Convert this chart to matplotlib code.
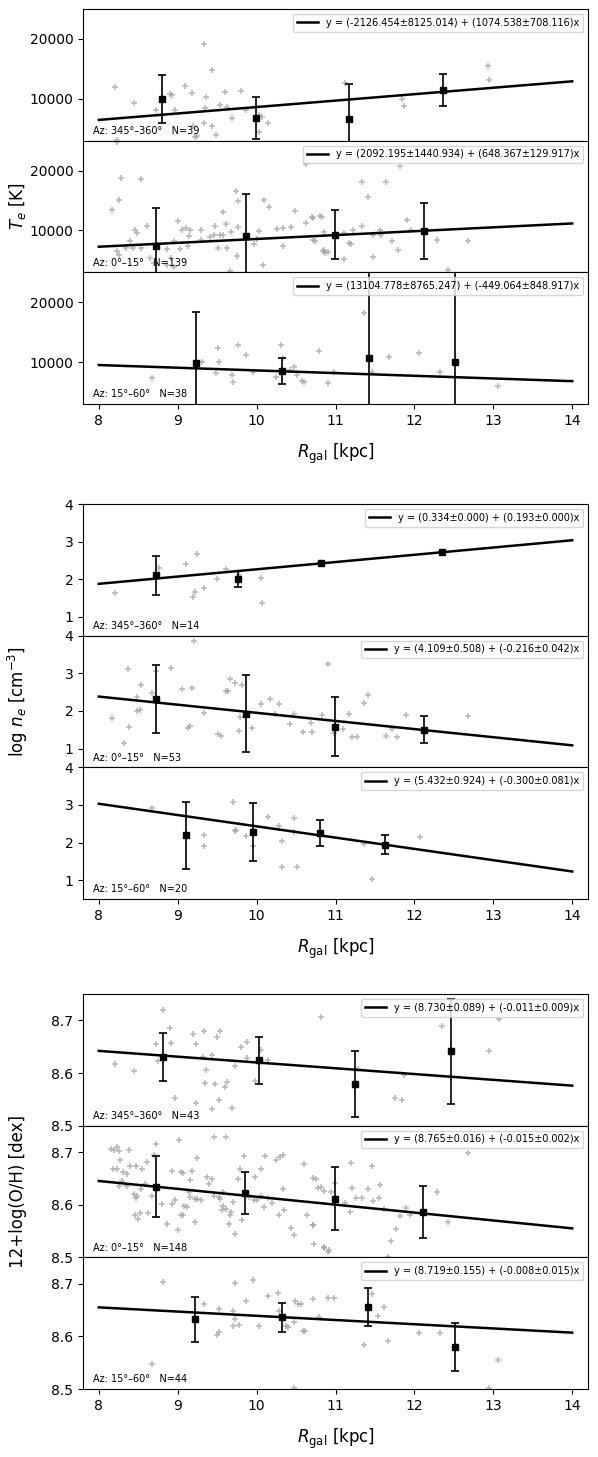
"""Radial gradients of Te, ne and O/H in three azimuth slices."""
import numpy as np
import matplotlib
matplotlib.use('Agg')
import matplotlib.pyplot as plt

W_PX, H_PX, DPI = 598, 1457, 100

az_labels = ['Az: 345°–360°', 'Az: 0°–15°', 'Az: 15°–60°']

# ---------------- Te ----------------
te_n = [39, 139, 38]
te_a = [-2126.454, 2092.195, 13104.778]
te_da = [8125.014, 1440.934, 8765.247]
te_b = [1074.538, 648.367, -449.064]
te_db = [708.116, 129.917, 848.917]

te_x1 = [8.20, 8.45, 8.72, 8.90, 8.93, 8.96, 9.09, 9.18, 9.33, 9.44, 9.36, 9.35, 9.33, 9.44, 9.48,
         9.53, 9.60, 9.62, 9.69, 9.80, 9.87, 10.03, 10.07, 10.03, 10.15, 11.12, 11.84, 11.87, 12.93,
         12.95, 9.22, 8.23, 9.20, 9.24]
te_y1 = [11890, 9330, 8110, 10720, 10600, 8170, 12060, 10890, 19220, 14890, 10280, 8390, 5890, 5440,
         3940, 8940, 11060, 8670, 6780, 11280, 8110, 7280, 7000, 4500, 5890, 12560, 9890, 8780, 15500,
         13170, 3670, 3100, 5520, 3830]
te_x2 = [8.23, 8.28, 8.53, 8.26, 8.17, 9.74, 9.76, 10.10, 10.16, 10.49, 9.57, 8.61, 8.46, 8.49, 9.00,
         9.06, 9.16, 9.11, 9.14, 9.29, 9.47, 9.61, 9.67, 9.76, 9.46, 9.53, 9.58, 9.41, 10.03, 10.26,
         10.33, 10.44, 10.62, 10.72, 10.83, 10.86, 10.74, 10.85, 10.90, 10.33, 9.97, 10.01, 9.51, 9.63,
         9.75, 10.08, 9.66, 8.39, 8.43, 8.35, 8.23, 8.26, 8.53, 8.87, 8.95, 9.03, 9.13, 8.91, 8.95,
         8.86, 8.65, 8.70, 9.29, 11.33, 11.64, 11.41, 11.82, 10.63, 10.70, 10.80, 10.72, 10.84, 10.87,
         11.11, 11.22, 11.17, 11.20, 11.34, 11.56, 11.58, 11.47, 11.90, 11.96, 11.71, 11.79, 11.48,
         11.11, 12.29, 12.68, 12.43]
te_y2 = [24830, 18740, 18570, 15090, 13400, 16600, 14930, 15040, 13970, 13250, 13080, 10730, 10010,
         9600, 11570, 10010, 10010, 10440, 9000, 10010, 10730, 11020, 9780, 10560, 9170, 9170, 9170,
         8880, 9900, 10180, 10360, 10560, 11230, 12020, 12240, 9690, 8210, 6750, 6410, 7370, 7760,
         8500, 7090, 7090, 5810, 4180, 3170, 8210, 7090, 7090, 6530, 5980, 7090, 6820, 8210, 6820,
         7370, 5410, 3850, 4300, 5410, 4580, 8330, 18100, 18100, 15670, 20720, 21100, 12170, 12330,
         8330, 6560, 6280, 9610, 10000, 7890, 7800, 10780, 10000, 9170, 9220, 11670, 10000, 8220,
         6780, 5560, 5280, 8330, 8220, 3440]
te_x3 = [8.68, 9.31, 9.51, 9.52, 9.49, 9.69, 9.70, 9.77, 9.87, 9.96, 10.24, 10.33, 10.31, 10.42, 10.48,
         10.51, 10.58, 10.60, 10.79, 10.91, 10.98, 11.36, 11.46, 11.68, 12.06, 12.33, 13.06]
te_y3 = [7280, 9940, 12280, 10000, 8110, 7830, 6720, 12780, 11110, 8390, 7440, 10610, 12940, 8670, 9220,
         7830, 6830, 6670, 11890, 6440, 8390, 18220, 8390, 10780, 11560, 8390, 6060]

te_bx = [[8.80, 9.99, 11.17, 12.36], [8.73, 9.87, 10.99, 12.12], [9.23, 10.32, 11.42, 12.52]]
te_by = [[9900, 6800, 6700, 11500], [7450, 9000, 9280, 9890], [9900, 8500, 10700, 9950]]
te_be = [[4000, 3500, 5850, 2650], [6270, 7100, 4100, 4700], [8400, 2200, 16000, 16000]]

# ---------------- ne ----------------
ne_n = [14, 53, 20]
ne_a = [0.334, 4.109, 5.432]
ne_da = [0.000, 0.508, 0.924]
ne_b = [0.193, -0.216, -0.300]
ne_db = [0.000, 0.042, 0.081]

ne_x1 = [8.20, 8.76, 9.10, 9.24, 9.20, 9.22, 9.33, 9.50, 9.61, 10.05, 10.07, 9.78]
ne_y1 = [1.64, 2.31, 2.40, 2.66, 1.53, 1.65, 1.77, 2.00, 2.27, 2.02, 1.38, 2.12]
ne_x2 = [8.37, 8.17, 8.32, 8.38, 8.53, 8.49, 8.49, 8.52, 8.67, 8.73, 8.91, 9.05, 9.18, 9.13, 9.16,
         9.21, 9.33, 9.51, 9.55, 9.61, 9.64, 9.66, 9.72, 9.81, 9.78, 9.79, 9.94, 10.05, 10.17, 10.29,
         10.23, 10.47, 10.42, 10.59, 10.70, 10.69, 10.83, 10.90, 10.98, 11.10, 11.17, 11.21, 11.27,
         11.36, 11.41, 11.64, 11.71, 11.78, 11.89, 12.68]
ne_y2 = [3.11, 1.82, 1.16, 1.58, 2.70, 2.37, 1.99, 2.02, 2.47, 3.07, 3.13, 2.59, 2.62, 1.55, 1.61,
         3.86, 1.95, 1.39, 1.34, 2.52, 2.53, 2.85, 2.74, 2.70, 1.46, 1.84, 1.54, 2.19, 2.31, 2.18,
         1.93, 1.93, 1.64, 1.43, 1.43, 1.67, 1.90, 3.26, 1.40, 1.51, 1.91, 1.31, 1.31, 2.22, 2.41,
         1.33, 1.51, 1.31, 1.90, 1.87]
ne_x3 = [8.68, 9.33, 9.33, 9.70, 9.72, 9.74, 9.87, 9.96, 10.15, 10.28, 10.32, 10.32, 10.48, 10.51,
         10.48, 11.36, 11.46, 12.07]
ne_y3 = [2.91, 2.19, 1.90, 3.08, 2.31, 2.33, 2.18, 1.90, 2.68, 2.43, 2.03, 1.34, 2.66, 1.35, 2.27,
         1.97, 1.02, 2.14]

ne_bx = [[8.72, 9.76, 10.82, 12.35], [8.73, 9.87, 10.99, 12.12], [9.10, 9.95, 10.80, 11.63]]
ne_by = [[2.10, 2.01, 2.42, 2.73], [2.31, 1.93, 1.58, 1.50], [2.19, 2.28, 2.26, 1.94]]
ne_be = [[0.53, 0.21, 0.0, 0.0], [0.91, 1.03, 0.78, 0.365], [0.89, 0.78, 0.35, 0.25]]

# ---------------- O/H ----------------
oh_n = [43, 148, 44]
oh_a = [8.730, 8.765, 8.719]
oh_da = [0.089, 0.016, 0.155]
oh_b = [-0.011, -0.015, -0.008]
oh_db = [0.009, 0.002, 0.015]

oh_x1 = [8.20, 8.45, 8.72, 8.75, 8.82, 8.90, 8.92, 8.96, 9.19, 9.23, 9.23, 9.33, 9.32, 9.36, 9.34,
         9.43, 9.44, 9.47, 9.50, 9.53, 9.52, 9.60, 9.62, 9.69, 9.72, 9.80, 9.88, 9.88, 9.98, 10.05,
         10.15, 10.82, 11.76, 11.84, 11.87, 12.35, 12.95, 13.07, 11.29]
oh_y1 = [8.617, 8.604, 8.655, 8.622, 8.720, 8.685, 8.657, 8.553, 8.675, 8.655, 8.543, 8.679, 8.630,
         8.606, 8.581, 8.634, 8.531, 8.579, 8.668, 8.679, 8.549, 8.573, 8.583, 8.534, 8.614, 8.650,
         8.659, 8.628, 8.585, 8.644, 8.625, 8.706, 8.553, 8.548, 8.596, 8.690, 8.641, 8.703, 8.608]
oh_x2 = [8.15, 8.23, 8.26, 8.19, 8.38, 8.27, 8.18, 8.23, 8.40, 8.47, 8.36, 8.31, 8.55, 8.61, 8.72,
         8.70, 8.25, 8.36, 8.29, 8.48, 8.44, 8.47, 8.53, 8.67, 8.46, 8.52, 8.50, 8.63, 8.86, 9.01,
         9.02, 9.24, 8.93, 9.04, 9.07, 9.18, 9.15, 8.93, 8.97, 9.08, 9.07, 9.04, 9.14, 9.16, 9.24,
         9.22, 9.29, 9.22, 9.37, 9.44, 9.46, 9.52, 9.54, 9.58, 9.61, 9.56, 9.67, 9.66, 9.46, 9.61,
         9.65, 9.73, 9.76, 9.79, 9.82, 9.84, 10.01, 9.98, 10.05, 10.11, 10.24, 10.30, 10.34, 10.09,
         10.05, 9.97, 10.34, 10.28, 10.35, 10.44, 10.48, 10.60, 10.75, 10.64, 10.72, 10.73, 10.86,
         10.92, 10.82, 10.94, 11.12, 11.18, 11.20, 11.21, 11.26, 11.33, 11.41, 11.46, 11.48, 11.55,
         11.57, 11.62, 11.70, 11.77, 11.67, 11.82, 11.95, 11.89, 12.29, 12.43, 12.68, 10.71, 10.78,
         10.72, 10.85, 10.85, 10.90, 10.99, 9.40, 9.58, 9.70, 9.90, 10.15, 10.20, 8.80, 8.58, 9.12]
oh_y2 = [8.706, 8.709, 8.701, 8.704, 8.703, 8.684, 8.667, 8.667, 8.674, 8.674, 8.658, 8.662, 8.668,
         8.681, 8.715, 8.694, 8.636, 8.635, 8.644, 8.617, 8.621, 8.612, 8.630, 8.617, 8.580, 8.585,
         8.572, 8.585, 8.564, 8.551, 8.722, 8.688, 8.664, 8.662, 8.660, 8.664, 8.646, 8.602, 8.608,
         8.598, 8.580, 8.580, 8.624, 8.614, 8.611, 8.610, 8.608, 8.567, 8.652, 8.649, 8.617, 8.614,
         8.610, 8.598, 8.592, 8.589, 8.587, 8.580, 8.729, 8.729, 8.564, 8.545, 8.649, 8.668, 8.570,
         8.693, 8.608, 8.653, 8.668, 8.693, 8.684, 8.690, 8.694, 8.595, 8.617, 8.608, 8.630, 8.581,
         8.589, 8.556, 8.542, 8.677, 8.649, 8.581, 8.562, 8.526, 8.520, 8.513, 8.633, 8.625, 8.604,
         8.587, 8.680, 8.631, 8.612, 8.612, 8.629, 8.674, 8.607, 8.612, 8.637, 8.591, 8.531, 8.553,
         8.501, 8.578, 8.581, 8.594, 8.624, 8.567, 8.698, 8.651, 8.631, 8.561, 8.626, 8.517, 8.511,
         8.642, 8.640, 8.625, 8.605, 8.615, 8.612, 8.603, 8.602, 8.640, 8.595]
oh_x3 = [8.68, 8.81, 9.33, 9.52, 9.52, 9.50, 9.70, 9.72, 9.70, 9.73, 9.78, 9.87, 9.95, 10.03, 10.15,
         10.27, 10.28, 10.37, 10.40, 10.49, 10.52, 10.56, 10.48, 10.59, 10.61, 10.72, 10.79, 10.91,
         10.98, 10.48, 11.36, 11.46, 11.54, 11.62, 11.67, 12.06, 12.32, 12.94, 13.06]
oh_y3 = [8.547, 8.703, 8.661, 8.651, 8.608, 8.603, 8.648, 8.632, 8.620, 8.701, 8.622, 8.667, 8.707,
         8.620, 8.677, 8.683, 8.648, 8.619, 8.618, 8.667, 8.661, 8.661, 8.628, 8.610, 8.611, 8.671,
         8.637, 8.672, 8.672, 8.501, 8.583, 8.681, 8.638, 8.656, 8.592, 8.606, 8.606, 8.501, 8.555]

oh_bx = [[8.81, 10.03, 11.25, 12.47], [8.72, 9.85, 10.99, 12.11], [9.22, 10.32, 11.41, 12.51]]
oh_by = [[8.630, 8.624, 8.579, 8.641], [8.634, 8.622, 8.611, 8.586], [8.632, 8.636, 8.656, 8.580]]
oh_be = [[0.046, 0.045, 0.063, 0.100], [0.058, 0.040, 0.060, 0.049], [0.042, 0.027, 0.036, 0.045]]

fit_x = np.array([8.0, 14.0])

groups = [
    dict(top=9, ylim=(3000, 25000), yticks=[10000, 20000], ylabel='$T_e$ [K]',
         pts=[(te_x1, te_y1), (te_x2, te_y2), (te_x3, te_y3)],
         bx=te_bx, by=te_by, be=te_be, n=te_n, a=te_a, da=te_da, b=te_b, db=te_db),
    dict(top=504, ylim=(0.5, 4.0), yticks=[1, 2, 3, 4], ylabel=r'$\log\,n_e$ [cm$^{-3}$]',
         pts=[(ne_x1, ne_y1), (ne_x2, ne_y2), (ne_x3, ne_y3)],
         bx=ne_bx, by=ne_by, be=ne_be, n=ne_n, a=ne_a, da=ne_da, b=ne_b, db=ne_db),
    dict(top=994, ylim=(8.5, 8.75), yticks=[8.5, 8.6, 8.7], ylabel='12+log(O/H) [dex]',
         pts=[(oh_x1, oh_y1), (oh_x2, oh_y2), (oh_x3, oh_y3)],
         bx=oh_bx, by=oh_by, be=oh_be, n=oh_n, a=oh_a, da=oh_da, b=oh_b, db=oh_db),
]

fig = plt.figure(figsize=(W_PX / DPI, H_PX / DPI), dpi=DPI)
L, R = 83, 588
PH = 131.67

for g in groups:
    for i in range(3):
        bot = g['top'] + (i + 1) * PH
        ax = fig.add_axes([L / W_PX, 1 - bot / H_PX, (R - L) / W_PX, PH / H_PX])
        px, py = g['pts'][i]
        ax.plot(px, py, '+', color='#a0a0a0', alpha=0.75, ms=5, mew=1.1, zorder=1)
        lab = 'y = (%.3f±%.3f) + (%.3f±%.3f)x' % (g['a'][i], g['da'][i], g['b'][i], g['db'][i])
        ax.plot(fit_x, g['a'][i] + g['b'][i] * fit_x, '-', color='black', lw=1.8,
                label=lab, zorder=3)
        ax.errorbar(g['bx'][i], g['by'][i], yerr=g['be'][i], fmt='s', color='black',
                    ms=5, elinewidth=1.2, capsize=3, capthick=1.2, zorder=4)
        ax.text(0.02, 0.035, '%s   N=%d' % (az_labels[i], g['n'][i]), transform=ax.transAxes,
                fontsize=7, va='bottom', ha='left')
        ax.legend(loc='upper right', fontsize=7, handlelength=2.2, borderpad=0.4)
        ax.set_xlim(7.8, 14.2)
        ax.set_ylim(*g['ylim'])
        ax.set_yticks(g['yticks'])
        ax.tick_params(labelsize=10)
        if i < 2:
            ax.tick_params(axis='x', bottom=False, labelbottom=False)
        else:
            ax.set_xticks(range(8, 15))
            ax.set_xlabel(r'$R_{\rm gal}$ [kpc]', fontsize=12, labelpad=10)
    ymid = g['top'] + 1.5 * PH
    fig.text(18 / W_PX, 1 - ymid / H_PX, g['ylabel'], rotation=90, fontsize=12,
             ha='center', va='center')

fig.savefig('out.png', dpi=DPI)
print('Wrote out.png')
